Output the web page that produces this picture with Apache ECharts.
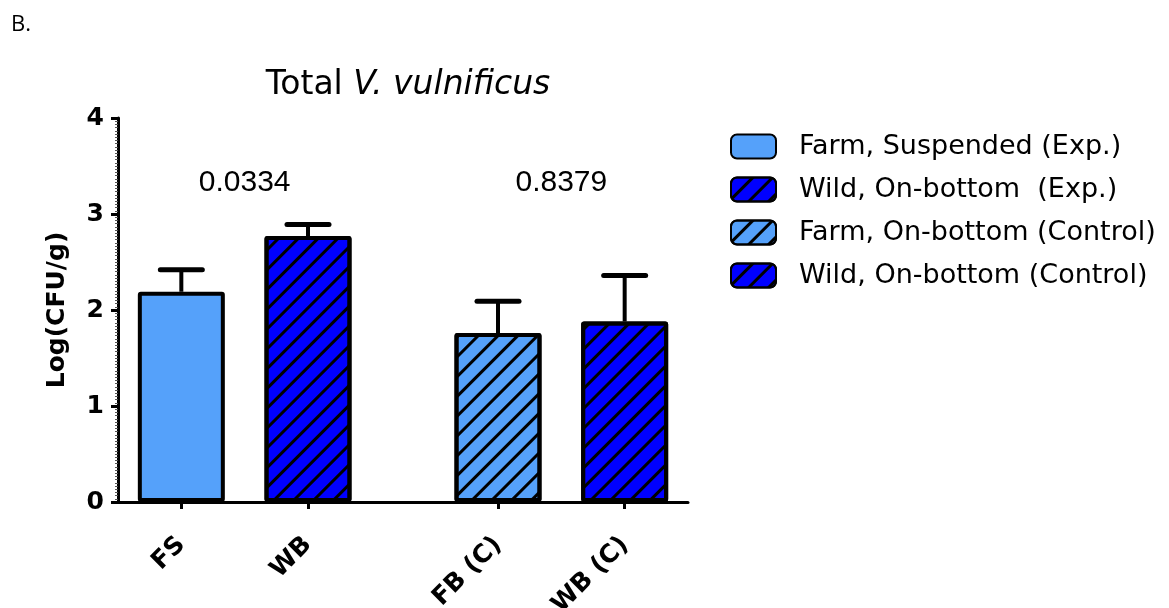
<!DOCTYPE html>
<html><head><meta charset="utf-8">
<script src="https://cdn.jsdelivr.net/npm/echarts@6/dist/echarts.min.js"></script>
<style>html,body{margin:0;padding:0;background:#fff}#c{width:1169px;height:608px}</style>
</head><body><div id="c"></div>
<script>
// ---- data ----
const categories = ['FS', 'WB', 'FB (C)', 'WB (C)'];
const seriesNames = ['Farm, Suspended (Exp.)', 'Wild, On-bottom  (Exp.)', 'Farm, On-bottom (Control)', 'Wild, On-bottom (Control)'];
const means = [2.19, 2.77, 1.76, 1.88];
const errors = [0.23, 0.12, 0.33, 0.48];
const pValues = ['0.0334', '0.8379'];
const pValueY = [3.33, 3.33];
const yTicks = [0, 1, 2, 3, 4];

// ---- layout (half-unit slots on the x axis, gap between the two groups) ----
const slots = [1, 3, 6, 8];
const pSlots = [2, 7];
const nSlots = 10;
const colors = ['#55A1FA', '#0000FF', '#55A1FA', '#0000FF'];
const hatched = [false, true, true, true];
const FONT = '"Liberation Sans", Arial, sans-serif';
const WIDE = '"DejaVu Sans", sans-serif';

const axisData = Array.from({length: nSlots}, (_, i) => {
  const k = slots.indexOf(i);
  return k >= 0 ? categories[k] : '';
});

const decal = {
  symbol: 'rect', symbolSize: 1, rotation: -Math.PI / 4, color: '#000',
  dashArrayX: [1, 0], dashArrayY: [3, 11]
};

const series = seriesNames.map((name, i) => {
  const d = Array(nSlots).fill(null);
  d[slots[i]] = means[i];
  return {
    name, type: 'bar', data: d, barWidth: 87, barGap: '-100%',
    itemStyle: Object.assign({color: colors[i], borderColor: '#000', borderWidth: 4, borderRadius: 1},
      hatched[i] ? {decal} : {}),
    z: 3
  };
});

series.push({
  type: 'custom', name: 'err', z: 4, silent: true,
  data: slots.map((s, i) => [s, means[i], errors[i]]),
  encode: {x: 0, y: 1},
  renderItem: function (params, api) {
    const x = api.value(0), m = api.value(1), e = api.value(2);
    const p0 = api.coord([x, m]);
    const p1 = api.coord([x, m + e]);
    const hw = 21;
    return {
      type: 'group', children: [
        {type: 'line', shape: {x1: p0[0], y1: p0[1], x2: p1[0], y2: p1[1]}, style: {stroke: '#000', lineWidth: 4}},
        {type: 'line', shape: {x1: p1[0] - hw, y1: p1[1], x2: p1[0] + hw, y2: p1[1]}, style: {stroke: '#000', lineWidth: 5, lineCap: 'round'}}
      ]
    };
  }
});

series.push({
  type: 'custom', name: 'p', z: 5, silent: true,
  data: pSlots.map((s, i) => [s, pValueY[i], pValues[i]]),
  encode: {x: 0, y: 1},
  renderItem: function (params, api) {
    const p = api.coord([api.value(0), api.value(1)]);
    return {
      type: 'text', x: p[0], y: p[1],
      style: {text: pValues[params.dataIndex], fontSize: 30, fontFamily: FONT, fill: '#000', align: 'center', verticalAlign: 'middle'}
    };
  }
});

const chart = echarts.init(document.getElementById('c'), null, {renderer: 'canvas'});
chart.setOption({
  animation: false,
  backgroundColor: '#fff',
  title: [{
    text: '{n|Total }{i|V. vulnificus}', left: 403, top: 64, textAlign: 'center',
    textStyle: {rich: {
      n: {fontSize: 33, fontFamily: WIDE, fontWeight: 'normal', color: '#000'},
      i: {fontSize: 33, fontFamily: WIDE, fontWeight: 'normal', fontStyle: 'italic', color: '#000'}
    }}
  }, {
    text: 'B.', left: 6, top: 9,
    textStyle: {fontSize: 22, fontFamily: '"Open Sans", sans-serif', fontWeight: 'normal', color: '#000'}
  }],
  legend: {
    data: seriesNames, orient: 'vertical', left: 725, top: 128,
    itemWidth: 45, itemHeight: 24, itemGap: 16,
    textStyle: {fontSize: 27, fontFamily: WIDE, color: '#000', padding: [0, 0, 0, 18]}
  },
  grid: {left: 118, right: 481, top: 118, bottom: 106, containLabel: false, outerBoundsMode: 'none'},
  xAxis: {
    type: 'category', data: axisData, boundaryGap: false,
    axisLine: {lineStyle: {color: '#000', width: 3}},
    axisTick: {show: true, length: 7, lineStyle: {width: 3, color: '#000'}, interval: (i) => slots.indexOf(i) >= 0},
    axisLabel: {interval: (i) => slots.indexOf(i) >= 0, rotate: 45, margin: 39, fontSize: 25, fontWeight: 'bold', fontFamily: WIDE, color: '#000'},
    splitLine: {show: false}
  },
  yAxis: {
    type: 'value', min: 0, max: 4, interval: 1,
    name: 'Log(CFU/g)', nameLocation: 'middle', nameGap: 48,
    nameTextStyle: {fontSize: 25, fontWeight: 'bold', fontFamily: WIDE, color: '#000'},
    axisLine: {show: true, lineStyle: {color: '#000', width: 3}},
    axisTick: {show: true, length: 7, lineStyle: {width: 3, color: '#000'}},
    minorTick: {show: true, splitNumber: 30, length: 3, lineStyle: {color: '#555', width: 1}},
    axisLabel: {fontSize: 25, fontWeight: 'bold', fontFamily: WIDE, color: '#000', margin: 14},
    splitLine: {show: false}
  },
  series
});
</script></body></html>
